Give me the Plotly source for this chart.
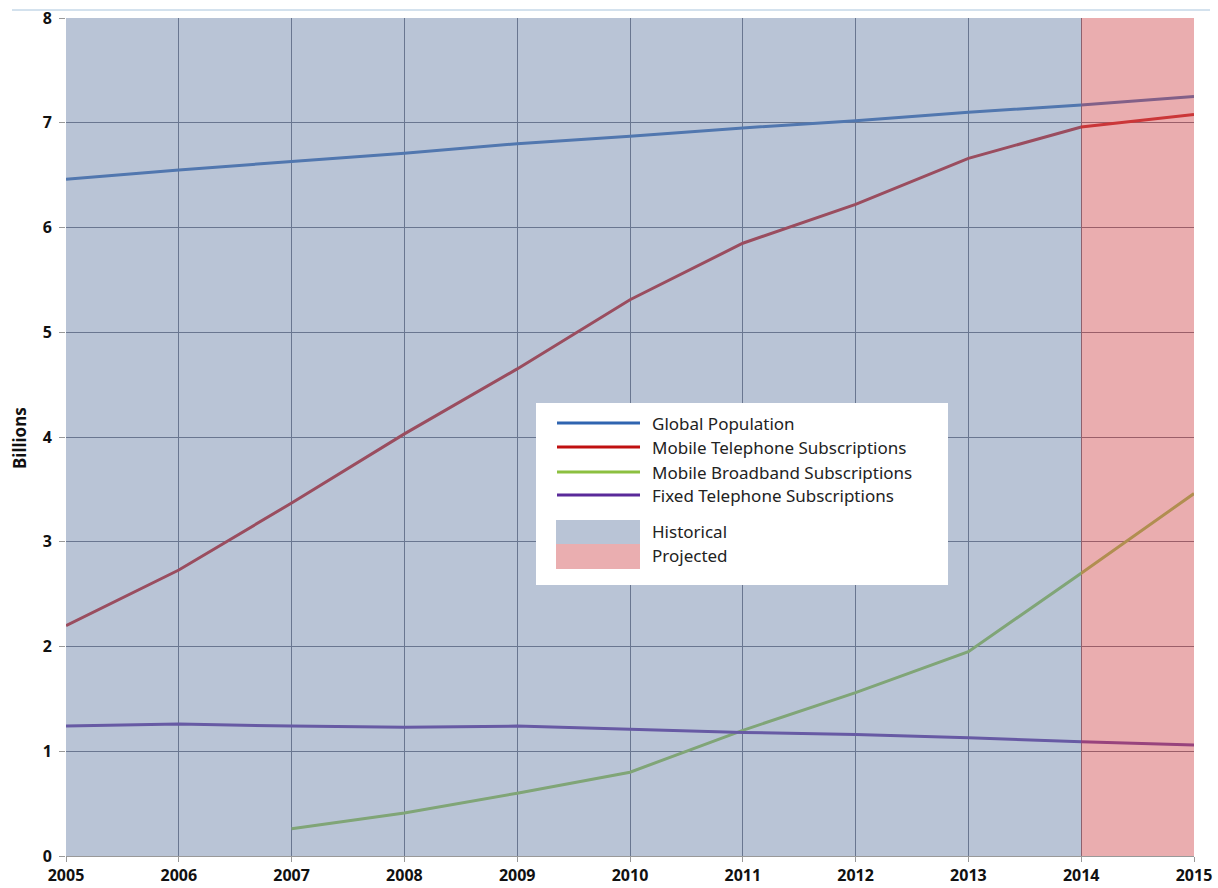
import plotly.graph_objects as go

years = [2005, 2006, 2007, 2008, 2009, 2010, 2011, 2012, 2013, 2014, 2015]
global_population = [6.46, 6.55, 6.63, 6.71, 6.80, 6.87, 6.95, 7.02, 7.10, 7.17, 7.25]
mobile_telephone = [2.20, 2.73, 3.37, 4.03, 4.65, 5.31, 5.85, 6.22, 6.66, 6.96, 7.08]
broadband_years = [2007, 2008, 2009, 2010, 2011, 2012, 2013, 2014, 2015]
mobile_broadband = [0.26, 0.41, 0.60, 0.80, 1.20, 1.56, 1.95, 2.70, 3.46]
fixed_telephone = [1.24, 1.26, 1.24, 1.23, 1.24, 1.21, 1.18, 1.16, 1.13, 1.09, 1.06]

series_names = ["Global Population", "Mobile Telephone Subscriptions",
                "Mobile Broadband Subscriptions", "Fixed Telephone Subscriptions"]
series_colors = ["#2f64b0", "#c01010", "#8cc040", "#5a2a9a"]
period_names = ["Historical", "Projected"]
period_bounds = [(2005, 2014), (2014, 2015)]
period_fill = ["#7389ad", "#d65c60"]
period_legend_fill = ["#b9c4d6", "#eaaeb0"]

fig = go.Figure()
xs = [years, years, broadband_years, years]
ys = [global_population, mobile_telephone, mobile_broadband, fixed_telephone]
for name, color, x, y in zip(series_names, series_colors, xs, ys):
    fig.add_trace(go.Scatter(x=x, y=y, mode="lines", name=name,
                             line=dict(color=color, width=3), showlegend=False))

shapes = []
for (x0, x1), col in zip(period_bounds, period_fill):
    shapes.append(dict(type="rect", xref="x", yref="y", x0=x0, x1=x1, y0=0, y1=8,
                       fillcolor=col, opacity=0.5, line=dict(width=0), layer="above"))

# manual legend (paper coords)
W, H, L, B = 1128.0, 838.0, 66.0, 856.0
def px(x):
    return (x - L) / W
def py(y):
    return (B - y) / H

shapes.append(dict(type="rect", xref="paper", yref="paper", x0=px(536), x1=px(948),
                   y0=py(585), y1=py(403), fillcolor="white", line=dict(width=0), layer="above"))
annotations = []
line_ys = [423, 447, 472, 495]
for name, color, ly in zip(series_names, series_colors, line_ys):
    shapes.append(dict(type="line", xref="paper", yref="paper", x0=px(557), x1=px(640),
                       y0=py(ly), y1=py(ly), line=dict(color=color, width=3), layer="above"))
    annotations.append(dict(xref="paper", yref="paper", x=px(650), y=py(ly), text=name,
                            showarrow=False, xanchor="left", yanchor="middle",
                            font=dict(size=17, color="#222222", family="Noto Sans")))
rect_ys = [(520, 544), (544, 569)]
for name, col, (ry0, ry1) in zip(period_names, period_legend_fill, rect_ys):
    shapes.append(dict(type="rect", xref="paper", yref="paper", x0=px(556), x1=px(640),
                       y0=py(ry1), y1=py(ry0), fillcolor=col, line=dict(width=0), layer="above"))
    annotations.append(dict(xref="paper", yref="paper", x=px(650), y=py((ry0 + ry1) / 2 - 1),
                            text=name, showarrow=False, xanchor="left", yanchor="middle",
                            font=dict(size=17, color="#222222", family="Noto Sans")))

# y-axis title
annotations.append(dict(xref="paper", yref="paper", x=px(19), y=py(438), text="<b>Billions</b>",
                        textangle=-90, showarrow=False, xanchor="center", yanchor="middle",
                        font=dict(family="Noto Sans", size=17, color="#111111")))

# thin top border line
shapes.append(dict(type="line", xref="paper", yref="paper", x0=px(12), x1=px(1210),
                   y0=py(10), y1=py(10), line=dict(color="#a8c4dc", width=1), layer="above"))

tick_font = dict(family="Noto Sans", size=16, color="#111111", weight="bold")
fig.update_layout(
    width=1218, height=888,
    margin=dict(l=66, r=24, t=18, b=32),
    paper_bgcolor="white", plot_bgcolor="white",
    shapes=shapes, annotations=annotations,
    xaxis=dict(range=[2005, 2015], tickmode="array", tickvals=years,
               ticktext=[str(y) for y in years], showgrid=True, gridcolor="#5e6272",
               gridwidth=1.2, zeroline=False, ticks="outside", ticklen=5, tickcolor="#999999",
               showline=True, linecolor="#999999", automargin=False, ticklabelstandoff=0,
               tickfont=tick_font),
    yaxis=dict(range=[0, 8], dtick=1, showgrid=True, gridcolor="#5e6272", gridwidth=1.2,
               zeroline=False, ticks="outside", ticklen=6, tickcolor="#999999", automargin=False,
               ticklabelstandoff=4, tickfont=tick_font),
)

fig.write_html("out.html")
